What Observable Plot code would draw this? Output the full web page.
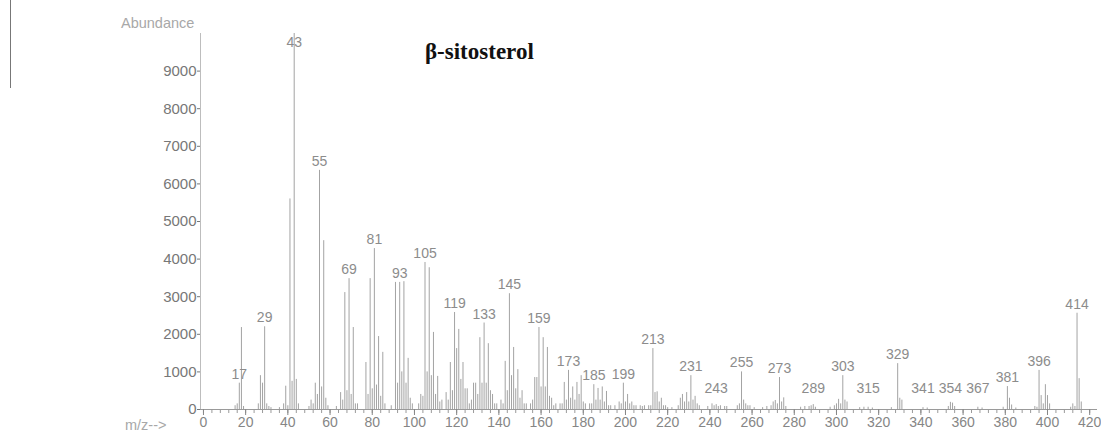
<!DOCTYPE html>
<html>
<head>
<meta charset="utf-8">
<script src="https://cdn.jsdelivr.net/npm/d3@7"></script>
<script src="https://cdn.jsdelivr.net/npm/@observablehq/plot@0.6"></script>
<style>
  html, body { margin: 0; padding: 0; background: #fff; }
  #wrap { position: relative; width: 1101px; height: 434px; overflow: hidden; }
  #title { position: absolute; left: 425px; top: 39px; font: bold 23px "Liberation Serif", "Times New Roman", serif; color: #111; }
  #ylab { position: absolute; left: 121px; top: 15px; font: 14.5px "Liberation Sans", Arial, sans-serif; color: #a8a8a8; }
  #xlab { position: absolute; left: 125px; top: 417px; font: 14.5px "Liberation Sans", Arial, sans-serif; color: #a8a8a8; }
  #edge { position: absolute; left: 10px; top: 0; width: 1px; height: 88px; background: #777; }
  #chart { position: absolute; left: 0; top: 0; }
</style>
</head>
<body>
<div id="wrap">
  <div id="chart"></div>
  <div id="edge"></div>
  <div id="title">β-sitosterol</div>
  <div id="ylab">Abundance</div>
  <div id="xlab">m/z--&gt;</div>
</div>
<script>
// m/z values and abundances
const mz = [
  15,16,17,18,19,26,27,28,29,30,31,32,36,38,39,40,
  41,42,43,44,45,50,51,52,53,54,55,56,57,58,59,63,65,66,67,68,69,70,71,72,73,
  77,78,79,80,81,82,83,84,85,86,89,91,92,93,94,95,96,97,98,99,
  102,103,104,105,106,107,108,109,110,111,112,113,115,116,117,118,119,120,121,122,123,124,125,126,127,128,129,130,
  131,132,133,134,135,136,137,138,139,141,142,143,144,145,146,147,148,149,150,151,152,153,155,156,157,158,159,160,
  161,162,163,164,165,166,167,169,170,171,172,173,174,175,176,177,178,179,180,181,183,184,185,186,187,188,189,190,
  191,192,193,195,197,198,199,200,201,202,203,204,205,207,208,209,211,212,213,214,215,216,217,218,219,220,222,
  225,226,227,228,229,230,231,232,233,234,235,239,241,242,243,244,245,247,248,253,254,255,256,257,258,259,261,265,
  267,269,270,271,272,273,274,275,276,283,285,287,288,289,290,297,299,300,301,302,303,304,305,311,313,315,317,
  326,329,330,331,341,343,353,354,355,356,367,369,379,381,382,383,385,394,395,396,397,398,399,400,401,411,412,413,414,415,416
];
const abundance = [
  100,150,700,2180,80,150,900,700,2200,150,80,50,50,150,620,100,
  5600,750,10000,800,150,80,250,150,700,400,6360,600,4490,300,100,80,450,250,3110,500,3480,400,2180,150,150,
  1250,400,3480,550,4280,650,1940,350,1520,150,100,3380,700,3380,1000,3400,700,1360,300,150,
  150,400,350,3910,1000,3770,900,2050,400,880,200,250,450,250,1250,500,2580,1620,2130,800,1250,550,550,150,250,700,700,400,
  1910,700,2300,700,1750,500,400,150,150,250,150,1280,500,3080,900,1650,550,1060,300,500,150,150,150,250,850,850,2180,600,
  1910,600,1650,350,300,100,150,150,150,720,250,1040,300,600,250,720,400,900,200,150,150,150,660,250,560,250,600,200,
  480,100,100,100,200,150,700,200,400,150,200,100,100,100,80,100,100,100,1620,450,470,200,300,100,100,50,50,
  100,300,400,200,450,200,900,250,350,150,100,80,150,100,130,80,100,80,80,100,150,1000,250,150,100,100,50,50,
  80,100,200,240,150,850,200,310,80,60,80,80,100,130,60,60,100,150,270,150,900,250,200,50,60,60,40,
  50,1220,300,250,50,40,80,190,170,80,60,40,60,610,300,120,40,80,60,1040,370,150,660,370,150,60,150,80,2560,820,200
];
// labelled peaks
const labelled = [17,29,43,55,69,81,93,105,119,133,145,159,173,185,199,213,231,243,255,273,289,303,315,329,341,354,367,381,396,414];

const yTicks = d3.range(0, 9001, 1000);
const xLabelTicks = d3.range(0, 421, 20);
const xMinorTicks = d3.range(0, 421, 4);

const peaks = mz.map((m, i) => ({mz: m, ab: abundance[i]}));
const abOf = new Map(peaks.map(d => [d.mz, d.ab]));
const labels = labelled.map(m => ({mz: m, ab: abOf.get(m)}));

const chart = Plot.plot({
  width: 1101,
  height: 434,
  marginLeft: 200,
  marginRight: 4,
  marginTop: 33,
  marginBottom: 25,
  style: {fontFamily: "'Liberation Sans', Arial, sans-serif", fontSize: "14px", background: "transparent"},
  x: {domain: [-1.4, 423.7]},
  y: {domain: [0, 10000]},
  marks: [
    Plot.frame({anchor: "left", stroke: "#bdbdbd"}),
    Plot.ruleX(peaks, {x: "mz", y1: 0, y2: "ab", stroke: "#a3a3a3", strokeWidth: 1}),
    Plot.ruleY([0], {stroke: "#9a9a9a"}),
    Plot.axisY({ticks: yTicks, tickSize: 3, tickPadding: 1, tickFormat: d3.format("d"), color: "#777", fontSize: 15, label: null}),
    Plot.axisX({ticks: xMinorTicks, tickSize: 4, text: null, stroke: "#9a9a9a", label: null}),
    Plot.axisX({ticks: xLabelTicks, tickSize: 6, tickPadding: 2, color: "#868686", fontSize: 14, label: null}),
    Plot.text(labels, {
      x: "mz",
      y: d => Math.max(Math.min(d.ab, 9520), 320),
      text: d => String(d.mz),
      dy: -9,
      fill: "#8c8c8c",
      fontSize: 14
    })
  ]
});
document.getElementById("chart").appendChild(chart);
</script>
</body>
</html>
